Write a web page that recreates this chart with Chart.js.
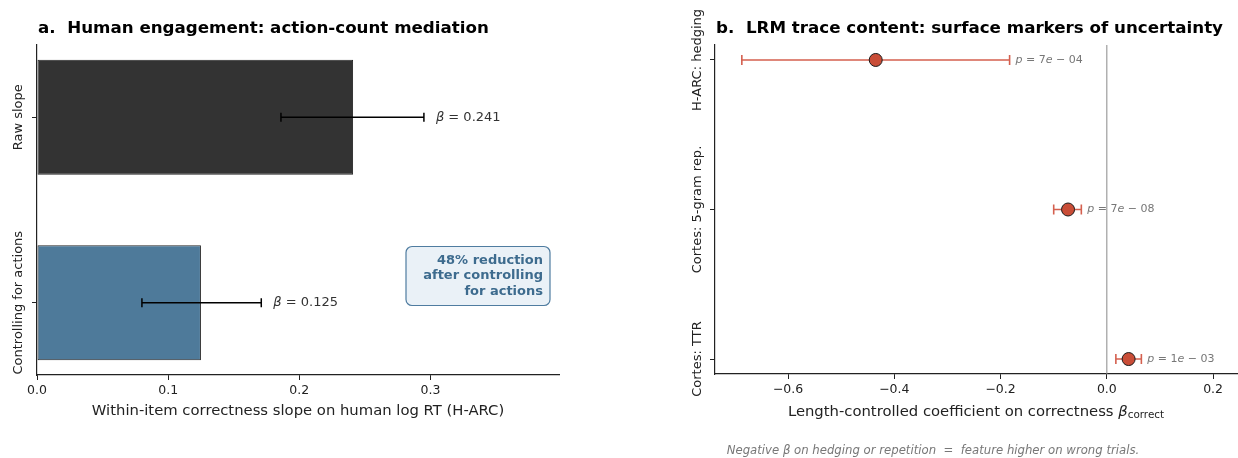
<!DOCTYPE html>
<html>
<head>
<meta charset="utf-8">
<script src="https://cdn.jsdelivr.net/npm/chart.js@4.4.0/dist/chart.umd.min.js"></script>
<style>
  body { margin: 0; background: #fff; width: 1238px; height: 458px; overflow: hidden; position: relative; }
  #chartA { position: absolute; left: 0; top: 0; }
  #chartB { position: absolute; left: 620px; top: 0; }
</style>
</head>
<body>
<canvas id="chartA" width="620" height="458"></canvas>
<canvas id="chartB" width="618" height="458"></canvas>
<script>
// panel a: action-count mediation
const barLabels = ['Controlling for actions', 'Raw slope'];
const barValues = [0.125, 0.241];
const barLow = [0.080, 0.186];
const barHigh = [0.171, 0.295];
const barColors = ['#4e7a9a', '#333333'];
const xTicksA = [0, 0.1, 0.2, 0.3];

// panel b: surface markers of uncertainty
const featLabels = ['Cortes: TTR', 'Cortes: 5-gram rep.', 'H-ARC: hedging'];
const featCoef = [0.041, -0.073, -0.435];
const featLow = [0.017, -0.100, -0.687];
const featHigh = [0.065, -0.048, -0.183];
const featP = ['1e − 03', '7e − 08', '7e − 04'];
const xTicksB = [-0.6, -0.4, -0.2, 0.0, 0.2];

const FONT = "'DejaVu Sans', sans-serif";
const INK = '#222';

// draw a run of [text, italic, size, dy] pieces starting at x
function drawRuns(ctx, runs, x, y, color, align) {
    ctx.save();
    ctx.fillStyle = color;
    ctx.textBaseline = 'middle';
    ctx.textAlign = 'left';
    let total = 0;
    runs.forEach(r => {
        ctx.font = (r[1] ? 'italic ' : '') + r[2] + 'px ' + FONT;
        total += ctx.measureText(r[0]).width;
    });
    let cx = align === 'center' ? x - total / 2 : x;
    runs.forEach(r => {
        ctx.font = (r[1] ? 'italic ' : '') + r[2] + 'px ' + FONT;
        ctx.fillText(r[0], cx, y + (r[3] || 0));
        cx += ctx.measureText(r[0]).width;
    });
    ctx.restore();
}

function drawTitle(ctx, area, text) {
    ctx.save();
    ctx.font = 'bold 16.7px ' + FONT;
    ctx.fillStyle = '#000';
    ctx.textBaseline = 'alphabetic';
    ctx.fillText(text, area.left + 1, 33);
    ctx.restore();
}

function drawYLabels(ctx, scale, labels, x) {
    ctx.save();
    ctx.font = '13px ' + FONT;
    ctx.fillStyle = INK;
    ctx.textAlign = 'center';
    ctx.textBaseline = 'middle';
    labels.forEach((lab, i) => {
        const y = scale.getPixelForValue(i);
        ctx.save();
        ctx.translate(x, y);
        ctx.rotate(-Math.PI / 2);
        ctx.fillText(lab, 0, 0);
        ctx.restore();
    });
    ctx.restore();
}

function errorBar(ctx, x1, x2, y, cap) {
    ctx.beginPath();
    ctx.moveTo(x1, y); ctx.lineTo(x2, y);
    ctx.moveTo(x1, y - cap / 2); ctx.lineTo(x1, y + cap / 2);
    ctx.moveTo(x2, y - cap / 2); ctx.lineTo(x2, y + cap / 2);
    ctx.stroke();
}

const panelA = {
    id: 'panelA',
    afterDatasetsDraw(chart) {
        const ctx = chart.ctx;
        const xs = chart.scales.x, ys = chart.scales.y;
        ctx.save();
        ctx.strokeStyle = '#000';
        ctx.lineWidth = 1.5;
        barValues.forEach((v, i) => {
            const y = ys.getPixelForValue(i);
            const x2 = xs.getPixelForValue(barHigh[i]);
            errorBar(ctx, xs.getPixelForValue(barLow[i]), x2, y, 9);
            drawRuns(ctx, [['β', true, 13], [' = ' + v.toFixed(3), false, 13]], x2 + 12, y, '#333');
        });
        ctx.restore();

        // annotation box
        const a = chart.chartArea;
        const right = a.right - 9, cy = a.bottom - 0.3 * (a.bottom - a.top);
        ctx.save();
        ctx.beginPath();
        ctx.roundRect(right - 144, cy - 29.5, 144, 59, 6);
        ctx.fillStyle = '#eaf1f7';
        ctx.fill();
        ctx.strokeStyle = '#4f7ca0';
        ctx.lineWidth = 1.2;
        ctx.stroke();
        ctx.font = 'bold 13px ' + FONT;
        ctx.fillStyle = '#3d6b8e';
        ctx.textAlign = 'right';
        ctx.textBaseline = 'middle';
        ['48% reduction', 'after controlling', 'for actions'].forEach((t, k) => {
            ctx.fillText(t, right - 7, cy - 15.3 + k * 15.3);
        });
        ctx.restore();
    },
    afterDraw(chart) {
        drawTitle(chart.ctx, chart.chartArea, 'a.  Human engagement: action-count mediation');
        drawYLabels(chart.ctx, chart.scales.y, barLabels, 19);
    }
};

const panelB = {
    id: 'panelB',
    beforeDatasetsDraw(chart) {
        const ctx = chart.ctx;
        const xs = chart.scales.x, ys = chart.scales.y;
        const a = chart.chartArea;
        ctx.save();
        const x0 = xs.getPixelForValue(0);
        ctx.strokeStyle = '#8a8a8a';
        ctx.lineWidth = 1;
        ctx.beginPath();
        ctx.moveTo(x0, a.top); ctx.lineTo(x0, a.bottom);
        ctx.stroke();
        ctx.strokeStyle = 'rgba(205, 68, 48, 0.85)';
        ctx.lineWidth = 1.6;
        featCoef.forEach((v, i) => {
            errorBar(ctx, xs.getPixelForValue(featLow[i]), xs.getPixelForValue(featHigh[i]), ys.getPixelForValue(i), 10);
        });
        ctx.restore();
    },
    afterDatasetsDraw(chart) {
        const ctx = chart.ctx;
        const xs = chart.scales.x, ys = chart.scales.y;
        featP.forEach((p, i) => {
            const x = xs.getPixelForValue(featHigh[i]) + 6;
            const parts = p.split('e');
            drawRuns(ctx, [['p', true, 11], [' = ' + parts[0], false, 11], ['e', true, 11], [parts[1], false, 11]],
                x, ys.getPixelForValue(i), '#777');
        });
    },
    afterDraw(chart) {
        const ctx = chart.ctx;
        const a = chart.chartArea;
        drawTitle(ctx, a, 'b.  LRM trace content: surface markers of uncertainty');
        drawYLabels(ctx, chart.scales.y, featLabels, 78);
        drawRuns(ctx, [['Length-controlled coefficient on correctness ', false, 14.8], ['β', true, 14.8], ['correct', false, 10.4, 3]],
            (a.left + a.right) / 2, 412, INK, 'center');
        drawRuns(ctx, [['Negative β on hedging or repetition  =  feature higher on wrong trials.', true, 11.7]],
            313, 451, '#777', 'center');
    }
};

const axisCommon = {
    grid: { drawOnChartArea: false, tickLength: 5, color: INK, tickWidth: 1, offset: false },
    border: { color: INK, width: 1.2 },
    offset: false
};

new Chart(document.getElementById('chartA'), {
    type: 'bar',
    data: {
        datasets: [{
            data: barValues.map((v, i) => ({ x: v, y: i })),
            backgroundColor: barColors,
            borderColor: '#262626',
            borderWidth: 1,
            borderSkipped: false,
            barPercentage: 0.62,
            categoryPercentage: 1
        }]
    },
    options: {
        indexAxis: 'y',
        responsive: false,
        animation: false,
        layout: { autoPadding: false, padding: { left: 0, right: 61, top: 45, bottom: 38 } },
        plugins: { legend: { display: false }, tooltip: { enabled: false } },
        scales: {
            x: {
                type: 'linear', min: 0, max: 0.398,
                afterBuildTicks: s => { s.ticks = xTicksA.map(v => ({ value: v })); },
                afterFit: s => { s.height = 45; s.paddingLeft = 0; s.paddingRight = 0; },
                ticks: { callback: v => v.toFixed(1), color: INK, font: { size: 12.5, family: FONT }, padding: 3, maxRotation: 0 },
                title: { display: true, text: 'Within-item correctness slope on human log RT (H-ARC)', color: INK,
                         font: { size: 14.8, family: FONT }, padding: { top: 0, bottom: 0 } },
                ...axisCommon
            },
            y: {
                type: 'linear', min: -0.39, max: 1.39,
                afterBuildTicks: s => { s.ticks = [{ value: 0 }, { value: 1 }]; },
                afterFit: s => { s.width = 37; },
                ticks: { display: false },
                ...axisCommon
            }
        }
    },
    plugins: [panelA]
});

new Chart(document.getElementById('chartB'), {
    type: 'scatter',
    data: {
        datasets: [{
            data: featCoef.map((v, i) => ({ x: v, y: i })),
            backgroundColor: '#c94d37',
            borderColor: '#1a1a1a',
            borderWidth: 1,
            pointRadius: 6.5
        }]
    },
    options: {
        responsive: false,
        animation: false,
        layout: { autoPadding: false, padding: { left: 0, right: 1, top: 45, bottom: 39 } },
        plugins: { legend: { display: false }, tooltip: { enabled: false } },
        scales: {
            x: {
                type: 'linear', min: -0.7375, max: 0.245,
                afterBuildTicks: s => { s.ticks = xTicksB.map(v => ({ value: v })); },
                afterFit: s => { s.height = 45; s.paddingLeft = 0; s.paddingRight = 0; },
                ticks: { callback: v => v.toFixed(1).replace('-', '−'), color: INK, font: { size: 12.5, family: FONT }, padding: 3, maxRotation: 0 },
                ...axisCommon
            },
            y: {
                type: 'linear', min: -0.1, max: 2.1,
                afterBuildTicks: s => { s.ticks = [{ value: 0 }, { value: 1 }, { value: 2 }]; },
                afterFit: s => { s.width = 95; },
                ticks: { display: false },
                ...axisCommon
            }
        }
    },
    plugins: [panelB]
});
</script>
</body>
</html>
